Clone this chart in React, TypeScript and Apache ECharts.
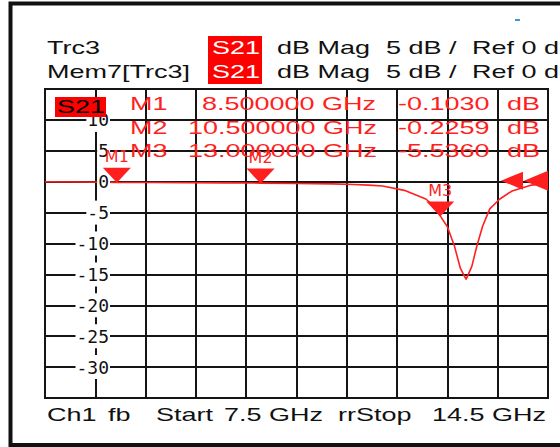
import React, { useEffect, useRef } from 'react';
import * as echarts from 'echarts';

// Trace S21 (dB) vs frequency (GHz)
const freqGHz = [7.5, 8.0, 8.5, 9.0, 9.5, 10.0, 10.5, 11.0, 11.5, 11.8, 12.0, 12.2, 12.5, 12.8, 12.9, 13.0, 13.1, 13.2, 13.28, 13.36, 13.44, 13.51, 13.59, 13.69, 13.83, 14.0, 14.25, 14.5];
const s21dB = [0.0, -0.05, -0.103, -0.13, -0.16, -0.19, -0.226, -0.28, -0.35, -0.45, -0.55, -0.7, -1.4, -2.8, -3.8, -5.536, -7.3, -10.5, -14.0, -15.8, -13.7, -10.4, -7.2, -4.4, -2.8, -1.5, -0.6, -0.2];

// Markers
const markerNames = ['M1', 'M2', 'M3'];
const markerFreq = [8.5, 10.5, 13.0];
const markerVal = [-0.103, -0.2259, -5.536];

// Axis settings
const yMin = -35;
const yMax = 15;
const yStep = 5;
const xStart = 7.5;
const xStop = 14.5;
const xDivisions = 10;

// Header / footer texts
const traceNames = ['Trc3', 'Mem7[Trc3]'];
const traceParam = 'S21';
const headerFormat = ['dB Mag', '5 dB /', 'Ref 0 dB'];
const footerTexts = ['Ch1', 'fb', 'Start', '7.5 GHz', 'rrStop', '14.5 GHz'];

const RED = '#ff1f1f';
const FONT = 'Liberation Sans';
const SX = 1.5;

function txt(text: string, x: number, y: number, fill: string, size = 18, z = 20) {
  return {
    type: 'text',
    x,
    y,
    scaleX: SX,
    z,
    style: {
      text,
      fill,
      fontSize: size,
      fontFamily: FONT,
      verticalAlign: 'middle',
      textVerticalAlign: 'middle',
    },
  };
}

export default function App() {
  const ref = useRef<HTMLDivElement>(null);

  useEffect(() => {
    if (!ref.current) return;
    const chart = echarts.init(ref.current, null, { renderer: 'svg' });

    const headerX = [277, 386, 472];
    const headerY = [48, 72];
    const footerX = [47, 108, 156, 224, 338, 432];
    const rowY = [104, 128, 151];

    const graphics: any[] = [
      { type: 'rect', z: 30, shape: { x: 10.5, y: 3.5, width: 580, height: 441.5 }, style: { fill: 'none', stroke: '#111', lineWidth: 4 } },
      { type: 'rect', z: 20, shape: { x: 515, y: 19, width: 5, height: 2 }, style: { fill: '#3a9ad9' } },
      { type: 'rect', z: 19, shape: { x: 208, y: 36, width: 54, height: 48 }, style: { fill: '#ff0000' } },
      { type: 'rect', z: 19, shape: { x: 55, y: 97, width: 51, height: 20 }, style: { fill: '#ff0000' } },
      txt(traceParam, 57, 107, '#000'),
    ];
    traceNames.forEach((t, i) => {
      graphics.push(txt(t, 47, headerY[i], '#111'));
      graphics.push(txt(traceParam, 212, headerY[i], '#fff'));
      headerFormat.forEach((h, j) => graphics.push(txt(h, headerX[j], headerY[i], '#111')));
    });
    markerNames.forEach((m, i) => {
      const f = markerFreq[i].toFixed(6) + ' GHz';
      graphics.push(txt(m, 130, rowY[i], RED));
      graphics.push(txt(f, markerFreq[i] >= 10 ? 188 : 202, rowY[i], RED));
      graphics.push(txt(markerVal[i].toFixed(4), 398, rowY[i], RED));
      graphics.push(txt('dB', 507, rowY[i], RED));
    });
    footerTexts.forEach((t, i) => graphics.push(txt(t, footerX[i], 415, '#111')));

    const lineColor = '#151515';

    chart.setOption({
      animation: false,
      backgroundColor: '#ffffff',
      grid: {
        left: 45,
        top: 89,
        width: 503,
        height: 309,
        show: true,
        borderColor: lineColor,
        borderWidth: 2,
        backgroundColor: 'transparent',
      },
      xAxis: [
        {
          type: 'value',
          min: xStart,
          max: xStop,
          show: false,
        },
        {
          type: 'value',
          min: 0,
          max: xDivisions,
          interval: 1,
          position: 'bottom',
          axisLine: { show: false },
          axisTick: { show: false },
          axisLabel: { show: false },
          splitLine: { show: true, lineStyle: { color: lineColor, width: 2 } },
          z: 0,
        },
      ],
      yAxis: [
        {
          type: 'value',
          min: yMin,
          max: yMax,
          interval: yStep,
          z: 3,
          axisLine: { show: false },
          axisTick: { show: false },
          splitLine: { show: false },
          axisLabel: {
            showMinLabel: false,
            showMaxLabel: false,
            margin: -65,
            color: '#111',
            fontFamily: 'DejaVu Sans Mono',
            fontSize: 18,
            backgroundColor: '#ffffff',
            padding: [3, 1, 3, 1],
          },
        },
        {
          type: 'value',
          min: yMin,
          max: yMax,
          interval: yStep,
          z: 0,
          axisLine: { show: false },
          axisTick: { show: false },
          axisLabel: { show: false },
          splitLine: { show: true, lineStyle: { color: lineColor, width: 2 } },
        },
      ],
      series: [
        {
          type: 'line',
          xAxisIndex: 0,
          yAxisIndex: 0,
          z: 2,
          data: freqGHz.map((f, i) => [f, s21dB[i]]),
          showSymbol: false,
          symbol: 'none',
          lineStyle: { color: RED, width: 1.6 },
          markPoint: {
            z: 5,
            data: [
              ...markerNames.map((m, i) => ({
                name: m,
                coord: [markerFreq[i], markerVal[i]],
                symbol: 'triangle',
                symbolRotate: 180,
                symbolSize: [28, 15],
                symbolOffset: [0, -7],
                itemStyle: { color: RED, borderWidth: 0 },
                label: {
                  show: true,
                  position: 'top',
                  distance: 3,
                  formatter: '{b}',
                  color: RED,
                  fontFamily: 'DejaVu Sans',
                  fontSize: 16,
                },
              })),
              {
                name: 'ref1',
                coord: [xStop, 0],
                symbol: 'triangle',
                symbolRotate: 90,
                symbolSize: [18, 22],
                symbolOffset: [-36, -1],
                itemStyle: { color: RED, borderWidth: 0 },
                label: { show: false },
              },
              {
                name: 'ref2',
                coord: [xStop, 0],
                symbol: 'triangle',
                symbolRotate: 90,
                symbolSize: [20, 24],
                symbolOffset: [-12, -1],
                itemStyle: { color: RED, borderWidth: 0 },
                label: { show: false },
              },
            ],
          },
        },
      ],
      graphic: graphics,
    });

    return () => chart.dispose();
  }, []);

  return (
    <div
      ref={ref}
      style={{ position: 'fixed', left: 0, top: 0, width: 560, height: 447, background: '#fff' }}
    />
  );
}
